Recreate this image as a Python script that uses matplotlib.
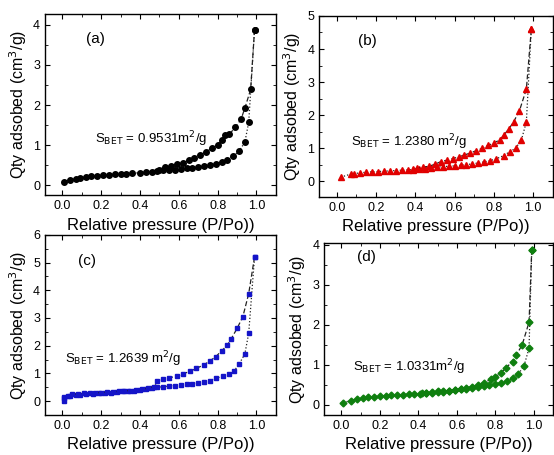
import numpy as np
import matplotlib
matplotlib.use('Agg')
import matplotlib.pyplot as plt
from matplotlib.ticker import MultipleLocator

plt.rcParams['font.family'] = ['Liberation Sans', 'DejaVu Sans']

# (a) adsorption / desorption branches
a_ads_x = [0.01, 0.04, 0.07, 0.09, 0.12, 0.15, 0.18, 0.21, 0.24, 0.27, 0.30, 0.33, 0.36, 0.40,
           0.43, 0.46, 0.49, 0.52, 0.55, 0.58, 0.61, 0.64, 0.67, 0.70, 0.73, 0.76, 0.79, 0.82,
           0.85, 0.88, 0.91, 0.94, 0.96, 0.99]
a_ads_y = [0.08, 0.13, 0.16, 0.18, 0.20, 0.22, 0.23, 0.25, 0.26, 0.27, 0.28, 0.29, 0.30, 0.31,
           0.32, 0.34, 0.36, 0.37, 0.38, 0.39, 0.40, 0.42, 0.43, 0.45, 0.47, 0.50, 0.54, 0.58,
           0.63, 0.72, 0.85, 1.07, 1.57, 3.88]
a_des_x = [0.99, 0.97, 0.94, 0.92, 0.89, 0.86, 0.84, 0.82, 0.80, 0.77, 0.74, 0.71, 0.68, 0.65,
           0.62, 0.59, 0.56, 0.53, 0.50]
a_des_y = [3.88, 2.39, 1.92, 1.64, 1.44, 1.27, 1.24, 1.12, 1.01, 0.92, 0.83, 0.76, 0.69, 0.62,
           0.56, 0.52, 0.48, 0.45, 0.38]

# (b)
b_ads_x = [0.02, 0.07, 0.09, 0.12, 0.15, 0.18, 0.21, 0.24, 0.27, 0.30, 0.33, 0.36, 0.39, 0.42,
           0.45, 0.48, 0.51, 0.54, 0.57, 0.60, 0.63, 0.66, 0.69, 0.72, 0.75, 0.78, 0.81, 0.85,
           0.88, 0.91, 0.94, 0.965, 0.99]
b_ads_y = [0.13, 0.22, 0.24, 0.26, 0.28, 0.29, 0.30, 0.31, 0.32, 0.33, 0.34, 0.35, 0.36, 0.37,
           0.39, 0.41, 0.43, 0.45, 0.46, 0.47, 0.49, 0.51, 0.53, 0.56, 0.59, 0.63, 0.68, 0.78,
           0.90, 1.00, 1.26, 1.80, 4.59]
b_des_x = [0.99, 0.965, 0.93, 0.90, 0.875, 0.85, 0.83, 0.80, 0.77, 0.74, 0.71, 0.68, 0.65,
           0.62, 0.59, 0.56, 0.53, 0.50, 0.47, 0.44, 0.41, 0.39]
b_des_y = [4.59, 2.79, 2.14, 1.80, 1.58, 1.40, 1.26, 1.16, 1.09, 1.00, 0.93, 0.86, 0.80,
           0.74, 0.69, 0.64, 0.60, 0.52, 0.46, 0.43, 0.40, 0.37]

# (c)
c_ads_x = [0.01, 0.01, 0.04, 0.07, 0.09, 0.12, 0.16, 0.19, 0.22, 0.25, 0.28, 0.31, 0.34, 0.37,
           0.40, 0.43, 0.46, 0.49, 0.52, 0.55, 0.58, 0.61, 0.64, 0.67, 0.70, 0.73, 0.76, 0.79,
           0.83, 0.86, 0.885, 0.91, 0.94, 0.96, 0.99]
c_ads_y = [0.00, 0.12, 0.17, 0.21, 0.23, 0.25, 0.27, 0.28, 0.30, 0.31, 0.33, 0.35, 0.36, 0.38,
           0.40, 0.43, 0.46, 0.50, 0.52, 0.54, 0.56, 0.58, 0.60, 0.62, 0.65, 0.69, 0.74, 0.82,
           0.90, 0.97, 1.09, 1.33, 1.70, 2.45, 5.20]
c_des_x = [0.99, 0.96, 0.93, 0.90, 0.87, 0.85, 0.82, 0.79, 0.76, 0.73, 0.69, 0.66, 0.62,
           0.59, 0.55, 0.52, 0.49, 0.47, 0.44, 0.41, 0.38, 0.35, 0.32, 0.29, 0.26, 0.23, 0.20,
           0.17, 0.14, 0.11, 0.08, 0.05, 0.03, 0.01]
c_des_y = [5.20, 3.88, 3.05, 2.62, 2.25, 2.02, 1.81, 1.60, 1.45, 1.31, 1.18, 1.08, 0.98,
           0.90, 0.84, 0.78, 0.71, 0.52, 0.46, 0.43, 0.40, 0.38, 0.37, 0.35, 0.34, 0.32, 0.31,
           0.30, 0.29, 0.28, 0.26, 0.24, 0.20, 0.14]

# (d)
d_ads_x = [0.01, 0.05, 0.08, 0.11, 0.14, 0.17, 0.20, 0.23, 0.26, 0.29, 0.32, 0.35, 0.38, 0.41,
           0.44, 0.47, 0.50, 0.53, 0.56, 0.59, 0.62, 0.65, 0.68, 0.71, 0.74, 0.77, 0.80, 0.83,
           0.86, 0.895, 0.92, 0.95, 0.976, 0.99]
d_ads_y = [0.06, 0.11, 0.15, 0.17, 0.19, 0.21, 0.22, 0.23, 0.24, 0.25, 0.26, 0.27, 0.28, 0.28,
           0.29, 0.30, 0.32, 0.33, 0.35, 0.37, 0.39, 0.41, 0.43, 0.45, 0.47, 0.50, 0.53, 0.56,
           0.59, 0.67, 0.77, 0.98, 1.42, 3.88]
d_des_x = [0.99, 0.976, 0.94, 0.91, 0.89, 0.855, 0.83, 0.80, 0.78, 0.74, 0.71, 0.68, 0.65,
           0.62, 0.59, 0.56, 0.53, 0.50, 0.47, 0.44, 0.42]
d_des_y = [3.88, 2.07, 1.50, 1.25, 1.08, 0.93, 0.80, 0.70, 0.64, 0.56, 0.50, 0.46, 0.43,
           0.40, 0.38, 0.36, 0.35, 0.34, 0.32, 0.30, 0.29]

panels = [
    dict(label='(a)', bet=r'S$_{\mathrm{BET}}$ = 0.9531m$^2$/g', color='black', marker='o', ms=4,
         ads=(a_ads_x, a_ads_y), des=(a_des_x, a_des_y), ylim=(-0.25, 4.27), ystep=1,
         pos=[0.081, 0.571, 0.417, 0.398], lab_xy=(0.12, 3.55), bet_xy=(0.17, 1.05), xlab_pad=None),
    dict(label='(b)', bet=r'S$_{\mathrm{BET}}$ = 1.2380 m$^2$/g', color='#e00000', marker='^', ms=4.5,
         ads=(b_ads_x, b_ads_y), des=(b_des_x, b_des_y), ylim=(-0.47, 5.0), ystep=1,
         pos=[0.576, 0.567, 0.422, 0.398], lab_xy=(0.11, 4.12), bet_xy=(0.07, 1.05), xlab_pad=None),
    dict(label='(c)', bet=r'S$_{\mathrm{BET}}$ = 1.2639 m$^2$/g', color='#1414c8', marker='s', ms=3.5,
         ads=(c_ads_x, c_ads_y), des=(c_des_x, c_des_y), ylim=(-0.5, 6.0), ystep=1,
         pos=[0.081, 0.088, 0.417, 0.396], lab_xy=(0.08, 4.9), bet_xy=(0.015, 1.37), xlab_pad=None),
    dict(label='(d)', bet=r'S$_{\mathrm{BET}}$ = 1.0331m$^2$/g', color='#0f7f0f', marker='D', ms=3.5,
         ads=(d_ads_x, d_ads_y), des=(d_des_x, d_des_y), ylim=(-0.25, 4.05), ystep=1,
         pos=[0.585, 0.088, 0.413, 0.378], lab_xy=(0.08, 3.6), bet_xy=(0.06, 0.85), xlab_pad=None),
]

fig = plt.figure(figsize=(5.54, 4.55), dpi=100)

for p in panels:
    ax = fig.add_axes(p['pos'])
    ax.plot(p['ads'][0], p['ads'][1], linestyle=':', color='#222222', lw=0.9,
            marker=p['marker'], ms=p['ms'], mfc=p['color'], mec=p['color'])
    ax.plot(p['des'][0], p['des'][1], linestyle='--', color='#222222', lw=0.9,
            dashes=(4, 2), marker=p['marker'], ms=p['ms'], mfc=p['color'], mec=p['color'])
    ax.set_xlim(-0.09, 1.1)
    ax.set_ylim(p['ylim'])
    ax.xaxis.set_major_locator(MultipleLocator(0.2))
    ax.xaxis.set_minor_locator(MultipleLocator(0.1))
    ax.yaxis.set_major_locator(MultipleLocator(p['ystep']))
    ax.yaxis.set_minor_locator(MultipleLocator(p['ystep'] / 2))
    ax.tick_params(which='both', direction='in', top=True, right=True, labelsize=9)
    ax.tick_params(which='major', length=3.5)
    ax.tick_params(which='minor', length=2)
    for s in ax.spines.values():
        s.set_linewidth(1.0)
    ax.set_xlabel('Relative pressure (P/Po))', fontsize=12, labelpad=4)
    ax.set_ylabel('Qty adsobed (cm$^3$/g)', fontsize=11.5, labelpad=3)
    ax.text(p['lab_xy'][0], p['lab_xy'][1], p['label'], fontsize=11)
    ax.text(p['bet_xy'][0], p['bet_xy'][1], p['bet'], fontsize=9.5)

fig.savefig('out.png', dpi=100)
